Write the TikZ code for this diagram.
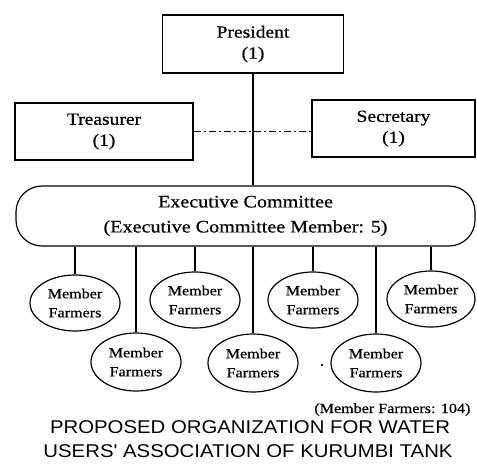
\documentclass[tikz,border=0pt]{standalone}
\usepackage{fontspec}
\setmainfont{Liberation Serif}[FakeStretch=1.15,FakeBold=0.6]
\newfontfamily\titlefont{Liberation Sans}[FakeStretch=1.1]
\usetikzlibrary{shapes.geometric}
\begin{document}
\begin{tikzpicture}[x=1pt,y=-1pt, line width=1.2pt,
  box/.style={draw, rectangle, align=center, inner sep=0pt, font=\fontsize{17}{21}\selectfont},
  farmer/.style={draw, ellipse, minimum width=90pt, minimum height=56pt, inner sep=0pt, align=center, font=\fontsize{14}{19}\selectfont},
  committee/.style={draw, rectangle, rounded corners=26pt, align=center, inner sep=0pt, font=\fontsize{17.5}{25}\selectfont},
  link/.style={line width=1.2pt},
  dashlink/.style={line width=1pt, dash pattern=on 7pt off 3pt on 2pt off 3pt},
  note/.style={inner sep=0pt, font=\fontsize{14}{16}\selectfont},
  title/.style={inner sep=0pt, font=\titlefont\fontsize{18.5}{24}\selectfont}]
\useasboundingbox (0,0) rectangle (477,464);
\node[box, minimum width=181pt, minimum height=58pt] (pres) at (253,44) {President\\(1)};
\node[box, minimum width=178pt, minimum height=57pt] (treas) at (104,131.5) {Treasurer\\(1)};
\node[box, minimum width=163pt, minimum height=57pt] (sec) at (393.5,128.5) {Secretary\\(1)};
\node[committee, minimum width=459pt, minimum height=60pt] (exec) at (245.5,216) {Executive Committee\\(Executive Committee Member: 5)};

\node[farmer] (m1) at (75,303) {Member\\Farmers};
\node[farmer] (m2) at (195,300) {Member\\Farmers};
\node[farmer] (m3) at (313,300) {Member\\Farmers};
\node[farmer, minimum width=88pt] (m4) at (431,299) {Member\\Farmers};
\node[farmer, minimum height=58pt] (b1) at (136,362) {Member\\Farmers};
\node[farmer, minimum height=58pt] (b2) at (253,363) {Member\\Farmers};
\node[farmer, minimum height=58pt] (b3) at (376,363) {Member\\Farmers};

\draw[link] (pres.south) -- (exec.north -| pres.south);
\draw[dashlink] (treas.east) -- (sec.west |- treas.east);
\foreach \m in {m1,m2,m3,m4,b1,b2,b3}
  \draw[link] (exec.south -| \m.north) -- (\m.north);

\fill (322,365) circle (1.3pt);

\node[note, anchor=base east] (count) at (471,413) {(Member Farmers: 104)};
\node[title, anchor=base] (t1) at (250,433) {PROPOSED ORGANIZATION FOR WATER};
\node[title, anchor=base] (t2) at (248,457) {USERS' ASSOCIATION OF KURUMBI TANK};
\end{tikzpicture}
\end{document}
